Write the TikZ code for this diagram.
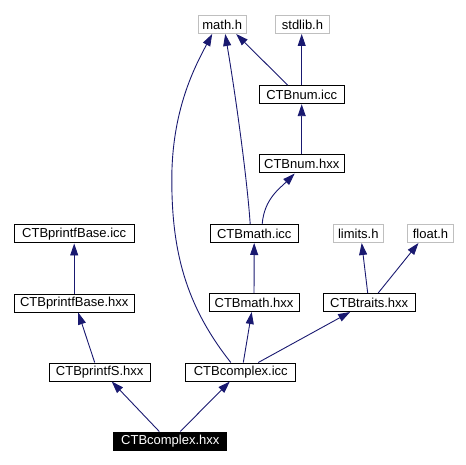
\documentclass[tikz,border=0pt]{standalone}
\usepackage{fontspec}
\setmainfont{Liberation Sans}
\usetikzlibrary{arrows.meta,positioning}
\definecolor{edgeblue}{RGB}{25,25,112}
\definecolor{sysgrey}{RGB}{191,191,191}
\tikzset{
  file/.style={draw=black, line width=1pt, minimum height=18pt, inner sep=0pt, font=\fontsize{13}{15}\selectfont},
  sys/.style={file, draw=sysgrey},
  root/.style={file, fill=black, text=white},
  dep/.style={draw=edgeblue, line width=0.9pt, -{Triangle[length=12pt,width=8pt]}}
}

\begin{document}
\begin{tikzpicture}[x=1pt, y=-1pt]
    \useasboundingbox (0,0) rectangle (466,465);

    \node[sys, minimum width=48pt] (mathh) at (222.2,24.5) {math.h};
    \node[sys, minimum width=54pt] (stdlib) at (302.5,24.5) {stdlib.h};
    \node[file, minimum width=85pt] (numicc) at (301.7,94.7) {CTBnum.icc};
    \node[file, minimum width=85pt] (numhxx) at (301.7,164) {CTBnum.hxx};
    \node[file, minimum width=120pt] (pbicc) at (74.2,234) {CTBprintfBase.icc};
    \node[file, minimum width=88pt] (mathicc) at (254.2,233.5) {CTBmath.icc};
    \node[sys, minimum width=50pt] (limits) at (358.3,233.5) {limits.h};
    \node[sys, minimum width=46pt] (floath) at (430.5,233.5) {float.h};
    \node[file, minimum width=120pt] (pbhxx) at (74.2,303) {CTBprintfBase.hxx};
    \node[file, minimum width=90pt] (mathhxx) at (254,302.5) {CTBmath.hxx};
    \node[file, minimum width=92pt] (traits) at (369.2,302.5) {CTBtraits.hxx};
    \node[file, minimum width=101pt] (pfs) at (99.7,372) {CTBprintfS.hxx};
    \node[file, minimum width=110pt] (cxicc) at (240.8,372) {CTBcomplex.icc};
    \node[root, minimum width=113pt] (cxhxx) at (170.3,441) {CTBcomplex.hxx};

    % includes, arrow at the included file
    \draw[dep] ([xshift=-14pt]numicc.north) -- ([xshift=14pt]mathh.south);
    \draw[dep] (numicc.north) -- (numicc.north |- stdlib.south);
    \draw[dep] (numhxx) -- (numicc);
    \draw[dep] ([xshift=8pt]mathicc.north) .. controls +(2,-25) and +(-15,15) .. ([xshift=-7pt]numhxx.south);
    \draw[dep] ([xshift=-4pt]mathicc.north) .. controls +(-3,-44) and +(11,65) .. ([xshift=3pt]mathh.south);
    \draw[dep] ([xshift=-10pt]cxicc.north) .. controls +(-46,-58) and +(0,70) .. ++(-59,-183)
        .. controls +(0,-70) and +(-17,32) .. ([xshift=-10pt]mathh.south);
    \draw[dep] (pbhxx) -- (pbicc);
    \draw[dep] ([xshift=-5pt]pfs.north) -- ([xshift=4pt]pbhxx.south);
    \draw[dep] ([xshift=-11pt]cxhxx.north) -- ([xshift=12pt]pfs.south);
    \draw[dep] ([xshift=10pt]cxhxx.north) -- ([xshift=-11pt]cxicc.south);
    \draw[dep] (mathhxx) -- (mathicc);
    \draw[dep] ([xshift=2.5pt]cxicc.north) -- ([xshift=-2.3pt]mathhxx.south);
    \draw[dep] ([xshift=17.5pt]cxicc.north) -- ([xshift=-19pt]traits.south);
    \draw[dep] ([xshift=-1.5pt]traits.north) -- ([xshift=3.4pt]limits.south);
    \draw[dep] ([xshift=9pt]traits.north) -- ([xshift=-12pt]floath.south);
\end{tikzpicture}
\end{document}
